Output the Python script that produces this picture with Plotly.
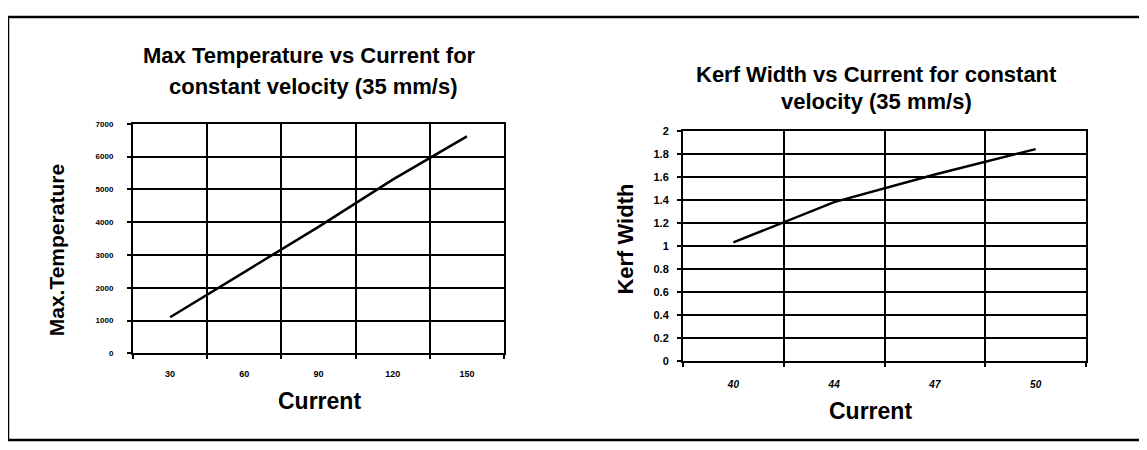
import plotly.graph_objects as go

# ---- data ----
temp_current = ["30", "60", "90", "120", "150"]
max_temperature = [1100, 2480, 3860, 5300, 6620]
temp_yticks = [0, 1000, 2000, 3000, 4000, 5000, 6000, 7000]

kerf_current = ["40", "44", "47", "50"]
kerf_width = [1.03, 1.38, 1.62, 1.84]
kerf_yticks = [0, 0.2, 0.4, 0.6, 0.8, 1, 1.2, 1.4, 1.6, 1.8, 2]
kerf_yticktext = ["0", "0.2", "0.4", "0.6", "0.8", "1", "1.2", "1.4", "1.6", "1.8", "2"]

OFF = 8  # default page body margin
W, H = 1147 - 2 * OFF, 450 - 2 * OFF
FONT = "Arial, Liberation Sans, sans-serif"

def px(x):
    return (x - OFF) / W

def py(y):
    return 1 - (y - OFF) / H

fig = go.Figure()
fig.add_trace(go.Scatter(x=temp_current, y=max_temperature, mode="lines",
                         line=dict(color="black", width=2.5), xaxis="x", yaxis="y",
                         showlegend=False))
fig.add_trace(go.Scatter(x=kerf_current, y=kerf_width, mode="lines",
                         line=dict(color="black", width=2.5), xaxis="x2", yaxis="y2",
                         showlegend=False))

common_x = dict(type="category", tickson="boundaries", showgrid=True, gridcolor="black",
                gridwidth=2, showline=True, linecolor="black", linewidth=2, mirror=True,
                ticks="outside", ticklen=4, tickcolor="black", tickwidth=2, zeroline=False)
common_y = dict(showgrid=True, gridcolor="black", gridwidth=2, showline=True,
                linecolor="black", linewidth=2, mirror=True, ticks="outside", ticklen=4,
                tickcolor="black", tickwidth=2, zeroline=False)

fig.update_layout(
    width=W, height=H,
    margin=dict(l=0, r=0, t=0, b=0),
    paper_bgcolor="white", plot_bgcolor="white",
    font=dict(family=FONT, color="black"),
    xaxis=dict(common_x, domain=[px(133), px(504)], anchor="y", range=[-0.5, 4.5],
               ticklabelstandoff=11,
               tickfont=dict(size=9, weight="bold", family=FONT)),
    yaxis=dict(common_y, domain=[py(357), py(121)], anchor="x", range=[0, 7000],
               tickvals=temp_yticks, ticklabelstandoff=12,
               tickfont=dict(size=8, weight="bold", family=FONT)),
    xaxis2=dict(common_x, domain=[px(683), px(1086)], anchor="y2", range=[-0.5, 3.5],
                ticklabelstandoff=13,
                tickfont=dict(size=10, weight="bold", style="italic", family=FONT)),
    yaxis2=dict(common_y, domain=[py(365), py(128)], anchor="x2", range=[0, 2],
                tickvals=kerf_yticks, ticktext=kerf_yticktext, ticklabelstandoff=6,
                tickfont=dict(size=11, weight="bold", family=FONT)),
)

def ann(text, x, y, size, angle=0):
    fig.add_annotation(text=text, x=px(x), y=py(y), xref="paper", yref="paper",
                       showarrow=False, textangle=angle, xanchor="center", yanchor="middle",
                       font=dict(size=size, family=FONT, color="black", weight="bold"))

ann("Max Temperature vs Current for", 309, 51, 22)
ann("constant velocity (35 mm/s)", 313, 83, 22)
ann("Kerf Width vs Current for constant", 876, 70, 22)
ann("velocity (35 mm/s)", 876, 98, 22)
ann("Current", 319, 406, 23)
ann("Current", 870, 416, 23)
ann("Max.Temperature", 56, 251, 21, angle=-90)
ann("Kerf Width", 626, 240, 22, angle=-90)

# outer frame
fig.add_shape(type="rect", xref="paper", yref="paper",
              x0=px(8), x1=px(1141), y0=py(446), y1=py(11),
              line=dict(color="black", width=2.5))

fig.write_html("out.html")
